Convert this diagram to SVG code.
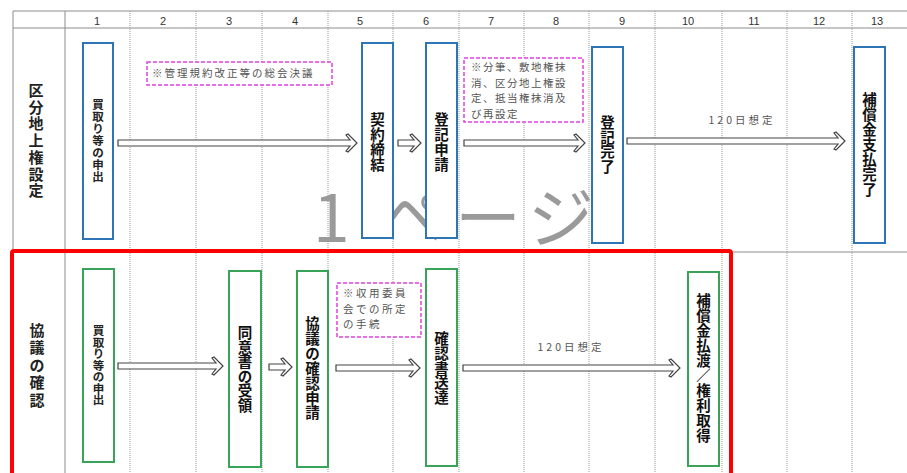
<svg xmlns="http://www.w3.org/2000/svg" width="907" height="473" viewBox="0 0 907 473">
<style>
.grid{stroke:#8c8c8c;stroke-width:1;fill:none}
.dot{stroke:#9a9a9a;stroke-width:1;stroke-dasharray:1 1;fill:none}
.hdr{font-family:"Liberation Sans",Arial,sans-serif;font-size:11px;fill:#333;text-anchor:middle}
.row{font-family:"Noto Sans CJK JP",sans-serif;font-weight:bold;font-size:15px;fill:#222;text-anchor:middle}
.lbl{font-family:"Noto Sans CJK JP",sans-serif;font-weight:bold;font-size:14.5px;fill:#111;text-anchor:middle}
.sm{font-family:"Noto Sans CJK JP",sans-serif;font-weight:bold;font-size:11.5px;fill:#222;text-anchor:middle}
.blue{fill:#fff;stroke:#2e75b6;stroke-width:2}
.green{fill:#fff;stroke:#3aa35a;stroke-width:2}
.note{fill:#fff;stroke:#e040e0;stroke-width:1.5;stroke-dasharray:4 2}
.nt{font-family:"Noto Sans CJK JP",sans-serif;font-size:10.5px;fill:#555}
.arr{fill:#fff;stroke:#444;stroke-width:1.2;stroke-linejoin:miter}
.wm{font-family:"Noto Sans CJK JP",sans-serif;font-size:66px;fill:#9a9a9a}
</style>
<rect width="907" height="473" fill="#fff"/>
<text class="wm" x="313 378 455 528" y="242">1ページ</text>
<g id="grid">
<line class="grid" x1="13" y1="11" x2="907" y2="11"/>
<line class="grid" x1="13" y1="28" x2="907" y2="28"/>
<line class="grid" x1="13" y1="252" x2="907" y2="252"/>
<line class="grid" x1="13" y1="11" x2="13" y2="473"/>
<line class="grid" x1="65" y1="11" x2="65" y2="473"/>
<line class="dot" x1="130" y1="11" x2="130" y2="473"/>
<line class="dot" x1="196" y1="11" x2="196" y2="473"/>
<line class="dot" x1="262" y1="11" x2="262" y2="473"/>
<line class="dot" x1="328" y1="11" x2="328" y2="473"/>
<line class="dot" x1="393" y1="11" x2="393" y2="473"/>
<line class="dot" x1="459" y1="11" x2="459" y2="473"/>
<line class="dot" x1="524" y1="11" x2="524" y2="473"/>
<line class="dot" x1="589" y1="11" x2="589" y2="473"/>
<line class="dot" x1="655" y1="11" x2="655" y2="473"/>
<line class="dot" x1="722" y1="11" x2="722" y2="473"/>
<line class="dot" x1="787" y1="11" x2="787" y2="473"/>
<line class="dot" x1="852" y1="11" x2="852" y2="473"/>
<text class="hdr" x="97" y="25">1</text>
<text class="hdr" x="163" y="25">2</text>
<text class="hdr" x="229" y="25">3</text>
<text class="hdr" x="295" y="25">4</text>
<text class="hdr" x="360" y="25">5</text>
<text class="hdr" x="426" y="25">6</text>
<text class="hdr" x="491" y="25">7</text>
<text class="hdr" x="556" y="25">8</text>
<text class="hdr" x="622" y="25">9</text>
<text class="hdr" x="688" y="25">10</text>
<text class="hdr" x="754" y="25">11</text>
<text class="hdr" x="819" y="25">12</text>
<text class="hdr" x="877" y="25">13</text>
</g>
<g id="row1">
<text class="row" x="36" y="96"><tspan x="36" dy="0">区</tspan><tspan x="36" dy="16.7">分</tspan><tspan x="36" dy="16.7">地</tspan><tspan x="36" dy="16.7">上</tspan><tspan x="36" dy="16.7">権</tspan><tspan x="36" dy="16.7">設</tspan><tspan x="36" dy="16.7">定</tspan></text>
</g>
<g id="row2">
<text class="row" x="37" y="336"><tspan x="37" dy="0">協</tspan><tspan x="37" dy="17.4">議</tspan><tspan x="37" dy="17.4">の</tspan><tspan x="37" dy="17.4">確</tspan><tspan x="37" dy="17.4">認</tspan></text>
</g>
<g id="note1">
<rect class="note" x="147" y="62" width="185" height="23"/>
<text class="nt" x="152" y="77" letter-spacing="2">※管理規約改正等の総会決議</text>
</g>
<g id="note2">
<rect class="note" x="464" y="58" width="119" height="64"/>
<text class="nt" x="471" y="71" letter-spacing="1.5">※分筆、敷地権抹</text>
<text class="nt" x="471" y="86.5" letter-spacing="1.5">消、区分地上権設</text>
<text class="nt" x="471" y="102" letter-spacing="1.5">定、抵当権抹消及</text>
<text class="nt" x="471" y="117.5" letter-spacing="1.5">び再設定</text>
</g>
<g id="note3">
<rect class="note" x="337" y="283" width="84" height="54"/>
<text class="nt" x="343" y="297" letter-spacing="2.5">※収用委員</text>
<text class="nt" x="343" y="312.5" letter-spacing="2.5">会での所定</text>
<text class="nt" x="343" y="328" letter-spacing="2.5">の手続</text>
</g>
<g id="connectors">
<path class="arr" d="M118 140H350L346 135L348 134L357 143L348 152L346 151L350 146H118Z"/>
<path class="arr" d="M398 140H414L410 135L412 134L421 143L412 152L410 151L414 146H398Z"/>
<path class="arr" d="M464 140H578L574 135L576 134L585 143L576 152L574 151L578 146H464Z"/>
<path class="arr" d="M627 138H838L834 133L836 132L845 141L836 150L834 149L838 144H627Z"/>
<path class="arr" d="M118 363H216L212 358L214 357L223 366L214 375L212 374L216 369H118Z"/>
<path class="arr" d="M269 364H285L281 359L283 358L292 367L283 376L281 375L285 370H269Z"/>
<path class="arr" d="M336 365H413L409 360L411 359L420 368L411 377L409 376L413 371H336Z"/>
<path class="arr" d="M463 365H673L669 360L671 359L680 368L671 377L669 376L673 371H463Z"/>
<text class="nt" x="742" y="124" text-anchor="middle" letter-spacing="3" font-size="11">120日想定</text>
<text class="nt" x="571" y="351" text-anchor="middle" letter-spacing="3" font-size="11">120日想定</text>
</g>
<g id="t1">
<rect class="blue" x="83" y="43" width="30" height="196"/>
<text class="sm" x="98" y="109"><tspan x="98" dy="0">買</tspan><tspan x="98" dy="12">取</tspan><tspan x="98" dy="12">り</tspan><tspan x="98" dy="12">等</tspan><tspan x="98" dy="12">の</tspan><tspan x="98" dy="12">申</tspan><tspan x="98" dy="12">出</tspan></text>
</g>
<g id="t2">
<rect class="blue" x="362" y="43" width="31" height="195"/>
<text class="lbl" x="377.5" y="125"><tspan x="377.5" dy="0">契</tspan><tspan x="377.5" dy="15">約</tspan><tspan x="377.5" dy="15">締</tspan><tspan x="377.5" dy="15">結</tspan></text>
</g>
<g id="t3">
<rect class="blue" x="426" y="43" width="31" height="195"/>
<text class="lbl" x="441.5" y="125"><tspan x="441.5" dy="0">登</tspan><tspan x="441.5" dy="15">記</tspan><tspan x="441.5" dy="15">申</tspan><tspan x="441.5" dy="15">請</tspan></text>
</g>
<g id="t4">
<rect class="blue" x="592" y="47" width="31" height="196"/>
<text class="lbl" x="607.5" y="128"><tspan x="607.5" dy="0">登</tspan><tspan x="607.5" dy="14.5">記</tspan><tspan x="607.5" dy="14.5">完</tspan><tspan x="607.5" dy="14.5">了</tspan></text>
</g>
<g id="t5">
<rect class="blue" x="854" y="47" width="31" height="196"/>
<text class="lbl" x="869.5" y="105"><tspan x="869.5" dy="0">補</tspan><tspan x="869.5" dy="15">償</tspan><tspan x="869.5" dy="15">金</tspan><tspan x="869.5" dy="15">支</tspan><tspan x="869.5" dy="15">払</tspan><tspan x="869.5" dy="15">完</tspan><tspan x="869.5" dy="15">了</tspan></text>
</g>
<g id="b1">
<rect class="green" x="83" y="269" width="31" height="193"/>
<text class="sm" x="98.5" y="335"><tspan x="98.5" dy="0">買</tspan><tspan x="98.5" dy="11.5">取</tspan><tspan x="98.5" dy="11.5">り</tspan><tspan x="98.5" dy="11.5">等</tspan><tspan x="98.5" dy="11.5">の</tspan><tspan x="98.5" dy="11.5">申</tspan><tspan x="98.5" dy="11.5">出</tspan></text>
</g>
<g id="b2">
<rect class="green" x="229" y="271" width="32" height="196"/>
<text class="lbl" x="245" y="338"><tspan x="245" dy="0">同</tspan><tspan x="245" dy="14.5">意</tspan><tspan x="245" dy="14.5">書</tspan><tspan x="245" dy="14.5">の</tspan><tspan x="245" dy="14.5">受</tspan><tspan x="245" dy="14.5">領</tspan></text>
</g>
<g id="b3">
<rect class="green" x="297" y="271" width="31" height="196"/>
<text class="lbl" x="312.5" y="329"><tspan x="312.5" dy="0">協</tspan><tspan x="312.5" dy="14.9">議</tspan><tspan x="312.5" dy="14.9">の</tspan><tspan x="312.5" dy="14.9">確</tspan><tspan x="312.5" dy="14.9">認</tspan><tspan x="312.5" dy="14.9">申</tspan><tspan x="312.5" dy="14.9">請</tspan></text>
</g>
<g id="b4">
<rect class="green" x="426" y="269" width="31" height="197"/>
<text class="lbl" x="441.5" y="344"><tspan x="441.5" dy="0">確</tspan><tspan x="441.5" dy="14.8">認</tspan><tspan x="441.5" dy="14.8">書</tspan><tspan x="441.5" dy="14.8">送</tspan><tspan x="441.5" dy="14.8">達</tspan></text>
</g>
<g id="b5">
<rect class="green" x="688" y="272" width="31" height="194"/>
<text class="lbl" x="703.5" y="306"><tspan x="703.5" dy="0">補</tspan><tspan x="703.5" dy="15">償</tspan><tspan x="703.5" dy="15">金</tspan><tspan x="703.5" dy="15">払</tspan><tspan x="703.5" dy="15">渡</tspan><tspan x="703.5" dy="15">／</tspan><tspan x="703.5" dy="15">権</tspan><tspan x="703.5" dy="15">利</tspan><tspan x="703.5" dy="15">取</tspan><tspan x="703.5" dy="15">得</tspan></text>
</g>
<rect x="12" y="251" width="719" height="240" rx="2" fill="none" stroke="#ff0000" stroke-width="4"/>
</svg>
